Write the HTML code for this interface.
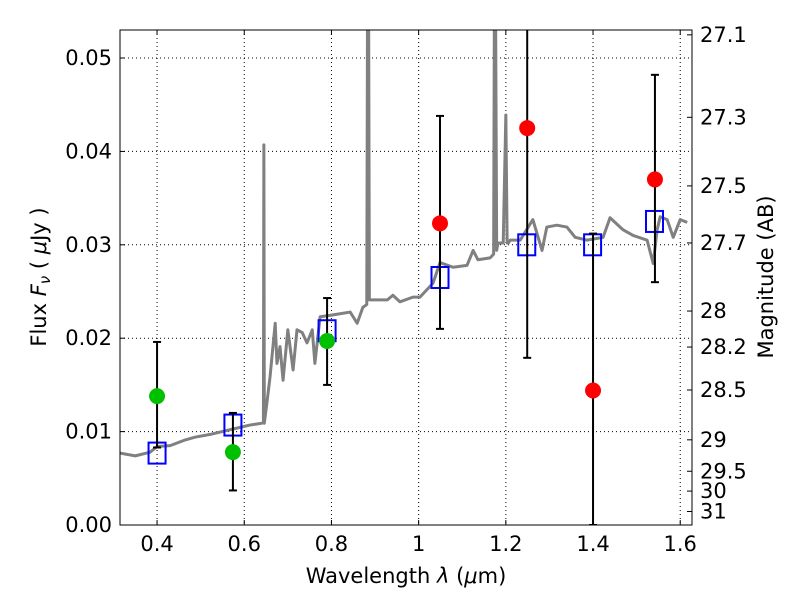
<!DOCTYPE html>
<html><head><meta charset="utf-8"><style>
html,body{margin:0;padding:0;background:#fff}
svg text{font-family:"DejaVu Sans","Liberation Sans",sans-serif;fill:#000}
</style></head><body>
<svg id="chart" width="800" height="600" xmlns="http://www.w3.org/2000/svg">
<g id="grid"></g>
<g id="spec"></g>
<g id="marks"></g>
<rect x="120" y="30" width="572" height="495" fill="none" stroke="#000" stroke-width="1"/>
<g id="ticks"></g>
<text x="406" y="583" font-size="21" text-anchor="middle">Wavelength  <tspan font-style="italic">λ</tspan> (<tspan font-style="italic">μ</tspan>m)</text>
<text transform="translate(46,277) rotate(-90)" font-size="21" text-anchor="middle">Flux  <tspan font-style="italic">F<tspan font-size="15" dy="4">ν</tspan></tspan><tspan dy="-4">  ( </tspan><tspan font-style="italic">μ</tspan>Jy )</text>
<text transform="translate(773,277) rotate(-90)" font-size="21" text-anchor="middle">Magnitude (AB)</text>
</svg>
<script>
const specWave=[0.315,0.350,0.384,0.400,0.430,0.464,0.487,0.522,0.567,0.613,0.641,0.644,0.645,0.646,0.652,0.659,0.671,0.675,0.682,0.689,0.700,0.712,0.721,0.733,0.744,0.756,0.762,0.774,0.804,0.843,0.859,0.872,0.881,0.883,0.885,0.887,0.895,0.928,0.941,0.957,0.987,1.003,1.033,1.049,1.079,1.111,1.125,1.136,1.164,1.172,1.174,1.176,1.179,1.182,1.194,1.200,1.203,1.206,1.210,1.233,1.262,1.283,1.294,1.317,1.340,1.359,1.386,1.423,1.439,1.469,1.492,1.524,1.538,1.547,1.554,1.570,1.584,1.600,1.616,1.627];
const specFlux=[0.0077,0.0074,0.0078,0.0084,0.0085,0.0091,0.0094,0.0097,0.0102,0.0107,0.0109,0.0110,0.0407,0.0109,0.0131,0.0158,0.0216,0.0173,0.0191,0.0155,0.0209,0.0166,0.0209,0.0206,0.0195,0.0209,0.0173,0.0223,0.0225,0.0228,0.0216,0.0233,0.0236,0.060,0.060,0.0241,0.0241,0.0241,0.0246,0.0239,0.0244,0.0244,0.0259,0.0281,0.0276,0.0278,0.0294,0.0284,0.0286,0.0290,0.060,0.060,0.0294,0.0302,0.0302,0.0439,0.0302,0.0302,0.0305,0.0305,0.0327,0.0294,0.0319,0.0321,0.0319,0.0308,0.0305,0.0308,0.0329,0.0316,0.0310,0.0305,0.0280,0.0316,0.0330,0.0327,0.0308,0.0327,0.0324];
const sqWave=[0.400,0.574,0.790,1.049,1.248,1.399,1.541];
const sqFlux=[0.0077,0.0107,0.0208,0.0265,0.0300,0.0300,0.0325];
const gWave=[0.400,0.574,0.790];
const gFlux=[0.0138,0.0078,0.0197];
const gLo=[0.0083,0.0037,0.0150];
const gHi=[0.0196,0.0120,0.0243];
const rWave=[1.049,1.249,1.400,1.542];
const rFlux=[0.0323,0.0425,0.0144,0.0370];
const rLo=[0.0210,0.0179,0.0,0.0260];
const rHi=[0.0438,0.060,0.0312,0.0482];
const xTicks=[0.4,0.6,0.8,1.0,1.2,1.4,1.6];
const xLabels=["0.4","0.6","0.8","1","1.2","1.4","1.6"];
const yTicks=[0,0.01,0.02,0.03,0.04,0.05];
const yLabels=["0.00","0.01","0.02","0.03","0.04","0.05"];
const magTicks=[27.1,27.3,27.5,27.7,28,28.2,28.5,29,29.5,30,31];

const L=120,R=692,T=30,B=525,XMIN=0.315,XMAX=1.627,YMIN=0,YMAX=0.053;
const X=v=>L+(v-XMIN)/(XMAX-XMIN)*(R-L);
const Y=v=>B-(v-YMIN)/(YMAX-YMIN)*(B-T);
const NS="http://www.w3.org/2000/svg";
function mk(p,tag,a){const e=document.createElementNS(NS,tag);for(const k in a)e.setAttribute(k,a[k]);p.appendChild(e);return e;}
const grid=document.getElementById('grid'),ticks=document.getElementById('ticks'),spec=document.getElementById('spec'),marks=document.getElementById('marks');
const clip=mk(document.getElementById('chart'),'clipPath',{id:'pc'});mk(clip,'rect',{x:L,y:T,width:R-L,height:B-T});
spec.setAttribute('clip-path','url(#pc)');marks.setAttribute('clip-path','url(#pc)');
xTicks.forEach((v,i)=>{const x=X(v);
 const g=mk(grid,'line',{x1:x,x2:x,y1:T,y2:B,stroke:'#000','stroke-dasharray':'1,3','stroke-width':1});
 
 mk(ticks,'line',{x1:x,x2:x,y1:B,y2:B-5,stroke:'#000'});mk(ticks,'line',{x1:x,x2:x,y1:T,y2:T+5,stroke:'#000'});
 const t=mk(ticks,'text',{x:x,y:B+26,'font-size':21,'text-anchor':'middle'});t.textContent=xLabels[i];
 });
yTicks.forEach((v,i)=>{const y=Y(v);
 const g=mk(grid,'line',{x1:L,x2:R,y1:y,y2:y,stroke:'#000','stroke-dasharray':'1,3','stroke-width':1});
 
 mk(ticks,'line',{x1:L,x2:L+5,y1:y,y2:y,stroke:'#000'});
 const t=mk(ticks,'text',{x:L-8,y:y+7,'font-size':21,'text-anchor':'end'});t.textContent=yLabels[i];
 });
magTicks.forEach(m=>{const f=Math.pow(10,(23.9-m)/2.5);const y=Y(f);
 mk(ticks,'line',{x1:R,x2:R-5,y1:y,y2:y,stroke:'#000'});
 const t=mk(ticks,'text',{x:R+8,y:y+7,'font-size':21});t.textContent=String(m);
 });
const pl=mk(spec,'polyline',{points:specWave.map((w,i)=>X(w)+','+Y(specFlux[i])).join(' '),fill:'none',stroke:'#808080','stroke-width':3,'stroke-linejoin':'round'});

function err(w,lo,hi){const x=X(w);mk(marks,'line',{x1:x,x2:x,y1:Y(lo),y2:Y(hi),stroke:'#000','stroke-width':2});
 mk(marks,'line',{x1:x-4,x2:x+4,y1:Y(lo),y2:Y(lo),stroke:'#000','stroke-width':2});mk(marks,'line',{x1:x-4,x2:x+4,y1:Y(hi),y2:Y(hi),stroke:'#000','stroke-width':2});}
sqWave.forEach((w,i)=>{const r=mk(marks,'rect',{x:X(w)-8.5,y:Y(sqFlux[i])-10.5,width:17,height:21,fill:'none',stroke:'#0000ff','stroke-width':2});
 });
gWave.forEach((w,i)=>{err(w,gLo[i],gHi[i]);const c=mk(marks,'circle',{cx:X(w),cy:Y(gFlux[i]),r:8,fill:'#00c000'});
 });
rWave.forEach((w,i)=>{err(w,rLo[i],rHi[i]);const c=mk(marks,'circle',{cx:X(w),cy:Y(rFlux[i]),r:8,fill:'#ff0000'});
 });
</script>
</body></html>
